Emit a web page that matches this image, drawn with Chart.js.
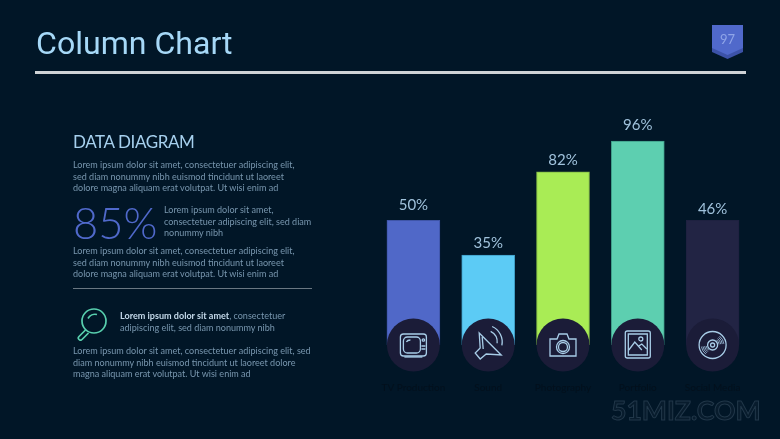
<!DOCTYPE html>
<html>
<head>
<meta charset="utf-8">
<title>Column Chart</title>
<script src="https://cdn.jsdelivr.net/npm/chart.js@4/dist/chart.umd.min.js"></script>
<style>
html, body { margin: 0; padding: 0; background: #011627; overflow: hidden; }
#page { position: relative; width: 780px; height: 439px; overflow: hidden; font-family: Lato, sans-serif; }
#page div { position: absolute; white-space: nowrap; }
canvas { position: absolute; left: 0; top: 0; }
.txt { color: #7896ae; font-size: 9.05px; line-height: 11.7px; }
#title { left: 36px; top: 23px; font: 32.1px/40px Roboto, sans-serif; color: #a6d8f7; }
#rule { left: 35px; top: 71px; width: 711px; height: 3px; background: #cfd3d6; }
#num { left: 712px; top: 31px; width: 31px; text-align: center; font-size: 13px; line-height: 16px; color: #8fa5e8; }
#head { left: 73px; top: 131px; font-size: 17px; line-height: 22px; color: #a6d0ee; letter-spacing: -0.4px; }
#big { left: 73px; top: 195px; font-size: 43.5px; line-height: 54px; font-weight: 300; color: #5069cb; }
#sep { left: 73px; top: 288px; width: 239px; height: 1px; background: #6a7782; }
#mark { left: 611px; top: 395px; font: bold 26.6px/30px Lato, sans-serif; color: #081c2d; -webkit-text-stroke: 1px #22384a; }
</style>
</head>
<body>
<div id="page">
  <canvas id="columnChart" width="780" height="439"></canvas>
  <div id="title">Column Chart</div>
  <div id="rule"></div>
  <svg style="position:absolute;left:712px;top:25px" width="31" height="34">
    <polygon points="0,0 31,0 31,27 15.5,34 0,27" fill="#3c52a8"></polygon>
    <polygon points="0,0 31,0 31,23 15.5,30 0,23" fill="#5069cb"></polygon>
  </svg>
  <div id="num">97</div>
  <div id="head">DATA DIAGRAM</div>
  <div class="txt" style="left:73px;top:159px">Lorem ipsum dolor sit amet, consectetuer adipiscing elit,<br>sed diam nonummy nibh euismod tincidunt ut laoreet<br>dolore magna aliquam erat volutpat. Ut wisi enim ad</div>
  <div id="big">85%</div>
  <div class="txt" style="left:164px;top:204px">Lorem ipsum dolor sit amet,<br>consectetuer adipiscing elit, sed diam<br>nonummy nibh</div>
  <div class="txt" style="left:73px;top:245px">Lorem ipsum dolor sit amet, consectetuer adipiscing elit,<br>sed diam nonummy nibh euismod tincidunt ut laoreet<br>dolore magna aliquam erat volutpat. Ut wisi enim ad</div>
  <div id="sep"></div>
  <svg style="position:absolute;left:76px;top:307px" width="32" height="34" fill="none" stroke="#58cfae" stroke-width="1.7">
    <circle cx="18" cy="14" r="12"></circle>
    <path d="M21 7.5a8 8 0 0 0-9 4"></path>
    <path d="M9.5 23 L3 29.5 a2 2 0 0 0 3 3 L12.5 26"></path>
  </svg>
  <div class="txt" style="left:120px;top:310px"><b style="color:#c4d9ea">Lorem ipsum dolor sit amet</b>, consectetuer<br>adipiscing elit, sed diam nonummy nibh</div>
  <div class="txt" style="left:73px;top:345px">Lorem ipsum dolor sit amet, consectetuer adipiscing elit, sed<br>diam nonummy nibh euismod tincidunt ut laoreet dolore<br>magna aliquam erat volutpat. Ut wisi enim ad</div>
  <div id="mark">51MIZ.COM</div>
</div>
<script>
var categories = ['TV Production', 'Sound', 'Photography', 'Portfolio', 'Social Media'];
// printed percentages
var percentLabels = [50, 35, 82, 96, 46];
// column heights, the drawn columns are not in proportion to their printed labels
var columnHeights = [58.8, 42.4, 81.7, 96.2, 58.8];
var barColors = ['#5068c8', '#5ccbf5', '#a9ec55', '#5dcfb0', '#222444'];
var barBorders = ['#3f55a8', '#3f9cc4', '#7fb545', '#3f9c88', '#1e2140'];
var labelGaps = [15, 12, 11.5, 16, 11];

function drawTv(c) {
    c.beginPath(); c.roundRect(-13, -11, 26, 22, 3); c.stroke();
    c.beginPath(); c.roundRect(-10, -8, 17, 16, 4); c.stroke();
    c.beginPath(); c.moveTo(-7, -3); c.quadraticCurveTo(-6, -5, -3, -5); c.stroke();
    c.beginPath(); c.arc(10, -5, 1.2, 0, 7); c.moveTo(8, 1); c.lineTo(12, 1); c.moveTo(8, 4); c.lineTo(12, 4); c.stroke();
    c.beginPath(); c.moveTo(-9, 12); c.lineTo(9, 12); c.stroke();
}
function drawSound(c) {
    c.beginPath(); c.moveTo(-9, -12); c.lineTo(13, 10); c.lineTo(-2, 9); c.lineTo(-8, 14); c.lineTo(-13, 8); c.lineTo(-8, 3); c.closePath(); c.stroke();
    c.beginPath(); c.moveTo(-6, -8); c.lineTo(-5, 4); c.stroke();
    c.beginPath(); c.arc(-3, -3, 12, -1.1, 0.1); c.stroke();
    c.beginPath(); c.arc(-3, -3, 17, -1.15, 0.2); c.stroke();
}
function drawCamera(c) {
    c.beginPath(); c.moveTo(-13, -6); c.lineTo(-6, -6); c.lineTo(-4, -11); c.lineTo(4, -11); c.lineTo(6, -6); c.lineTo(13, -6); c.lineTo(13, 11); c.lineTo(-13, 11); c.closePath(); c.stroke();
    c.beginPath(); c.arc(0, 2, 6.5, 0, 7); c.stroke();
    c.beginPath(); c.arc(0, 2, 4.5, 0, 7); c.stroke();
}
function drawPicture(c) {
    c.beginPath(); c.roundRect(-12.5, -14, 25, 27, 2); c.stroke();
    c.beginPath(); c.rect(-9.5, -11, 19, 21); c.stroke();
    c.beginPath(); c.moveTo(-9, 5); c.lineTo(-3, -3); c.lineTo(4, 5); c.moveTo(1, 1); c.lineTo(4, -1); c.lineTo(9, 4); c.stroke();
    c.beginPath(); c.arc(3, -6, 2, 0, 7); c.stroke();
}
function drawDisc(c) {
    c.beginPath(); c.arc(0, 0, 13.5, 0, 7); c.stroke();
    c.beginPath(); c.arc(0, 0, 5, 0, 7); c.stroke();
    c.beginPath(); c.arc(0, 0, 2, 0, 7); c.stroke();
    c.lineWidth = 0.8;
    for (var r = 6.5; r < 12; r += 1.6) {
        c.beginPath(); c.arc(0, 0, r, -0.9, -0.1); c.stroke();
        c.beginPath(); c.arc(0, 0, r, 2.2, 3); c.stroke();
    }
}
var iconFns = [drawTv, drawSound, drawCamera, drawPicture, drawDisc];

// circles and icons sit on the foot of every column, percent text above it
var columnExtras = {
    id: 'columnExtras',
    afterDatasetsDraw: function (chart) {
        var c = chart.ctx;
        var bars = chart.getDatasetMeta(0).data;
        var baseY = chart.scales.y.getPixelForValue(0);
        bars.forEach(function (bar, i) {
            c.save();
            c.fillStyle = '#1b1c38';
            c.beginPath();
            c.arc(bar.x, baseY, 26.5, 0, Math.PI * 2);
            c.fill();
            c.translate(bar.x, baseY);
            c.strokeStyle = '#a8cde8';
            c.lineWidth = 1.3;
            iconFns[i](c);
            c.restore();

            c.save();
            c.fillStyle = '#a0c2dc';
            c.font = '15px Lato, sans-serif';
            c.textAlign = 'center';
            c.textBaseline = 'middle';
            c.fillText(percentLabels[i] + '%', bar.x, bar.y - labelGaps[i]);
            c.restore();
        });
    }
};

var ctx = document.getElementById('columnChart').getContext('2d');
var columnChart = new Chart(ctx, {
    type: 'bar',
    data: {
        labels: categories,
        datasets: [{
            data: columnHeights,
            backgroundColor: barColors,
            borderColor: barBorders,
            borderWidth: 1,
            barThickness: 53
        }]
    },
    options: {
        responsive: false,
        animation: false,
        layout: { padding: { left: 376, right: 30, top: 133, bottom: 16 } },
        plugins: { legend: { display: false }, tooltip: { enabled: false } },
        scales: {
            x: {
                grid: { display: false },
                border: { display: false },
                ticks: { color: '#03101c', font: { family: 'Lato, sans-serif', size: 10 }, padding: 29, maxRotation: 0 }
            },
            y: { display: false, min: 0, max: 100 }
        }
    },
    plugins: [columnExtras]
});
</script>
</body>
</html>
